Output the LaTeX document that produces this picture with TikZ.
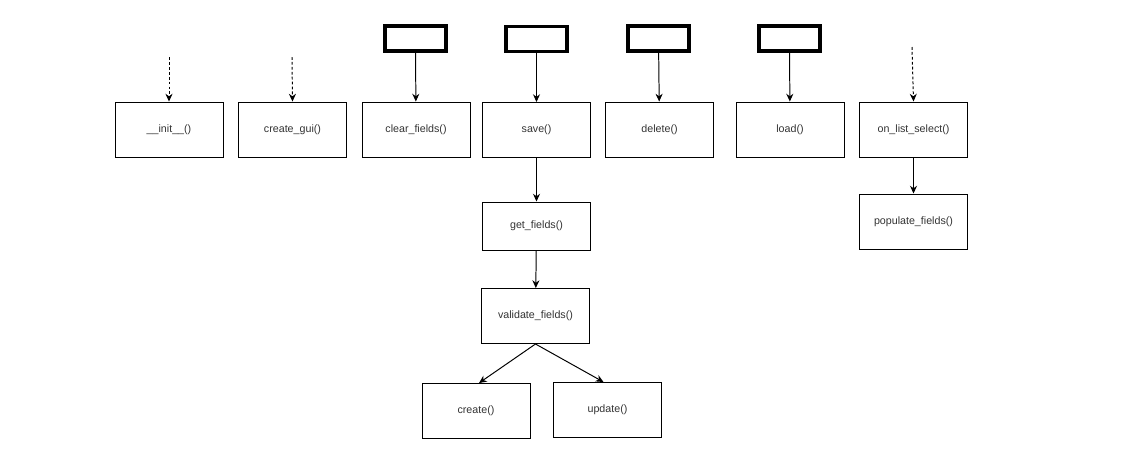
\documentclass[tikz,border=0pt]{standalone}
\usepackage{fontspec}
\setmainfont{Liberation Sans}
\usetikzlibrary{arrows.meta}
\tikzset{
    func/.style={draw,line width=0.7pt,minimum width=108*0.025cm,minimum height=55*0.025cm,inner sep=0pt,text=black!80,font=\fontsize{7.6}{9}\selectfont},
    caller/.style={draw,line width=2.8pt,minimum width=61*0.025cm,minimum height=25*0.025cm,inner sep=0pt},
    call/.style={-{Stealth[length=5.5pt,width=5pt]},line width=0.7pt},
    extcall/.style={call,dash pattern=on 2pt off 1.5pt}
}
\begin{document}
\begin{tikzpicture}[x=0.025cm,y=-0.025cm]
        \fill[white] (0,0) rectangle (1125,470);
        \useasboundingbox (0,0) rectangle (1125,470);
        % top row of methods
        \node[func] (init) at (169,129.5) {\_\_init\_\_()};
        \node[func] (gui) at (292.5,129.5) {create\_gui()};
        \node[func] (clear) at (416,129.5) {clear\_fields()};
        \node[func] (save) at (536.5,130) {save()};
        \node[func] (del) at (659.5,129.5) {delete()};
        \node[func] (load) at (790,129.5) {load()};
        \node[func] (sel) at (913.5,129.5) {on\_list\_select()};
        % buttons
        \node[caller] (bclear) at (415.5,38.5) {};
        \node[caller] (bsave) at (536.5,39) {};
        \node[caller] (bdel) at (658.5,38.5) {};
        \node[caller] (bload) at (789.5,38.5) {};
        \coordinate (initsrc) at (169,57);
        \coordinate (guisrc) at (292,57);
        \coordinate (selsrc) at (912,47);
        % save chain
        \node[func,minimum height=48*0.025cm] (get) at (536.5,226) {get\_fields()};
        \node[func] (val) at (535.5,316) {validate\_fields()};
        \node[func] (cre) at (476,411) {create()};
        \node[func] (upd) at (607.5,410) {update()};
        \node[func] (pop) at (913.5,221.5) {populate\_fields()};
        % connectors
        \draw[extcall] (initsrc) -- (init.north);
        \draw[extcall] (guisrc) -- (gui.north);
        \draw[extcall] (selsrc) -- (sel.north);
        \draw[call] (bclear) -- (clear);
        \draw[call] (bsave) -- (save);
        \draw[call] (bdel) -- (del);
        \draw[call] (bload) -- (load);
        \draw[call] (save) -- (get);
        \draw[call] (get) -- (val);
        \draw[call] (val.south) -- ([xshift=3*0.025cm]cre.north);
        \draw[call] (val.south) -- ([xshift=-4*0.025cm]upd.north);
        \draw[call] (sel) -- (pop);
    \end{tikzpicture}
\end{document}
